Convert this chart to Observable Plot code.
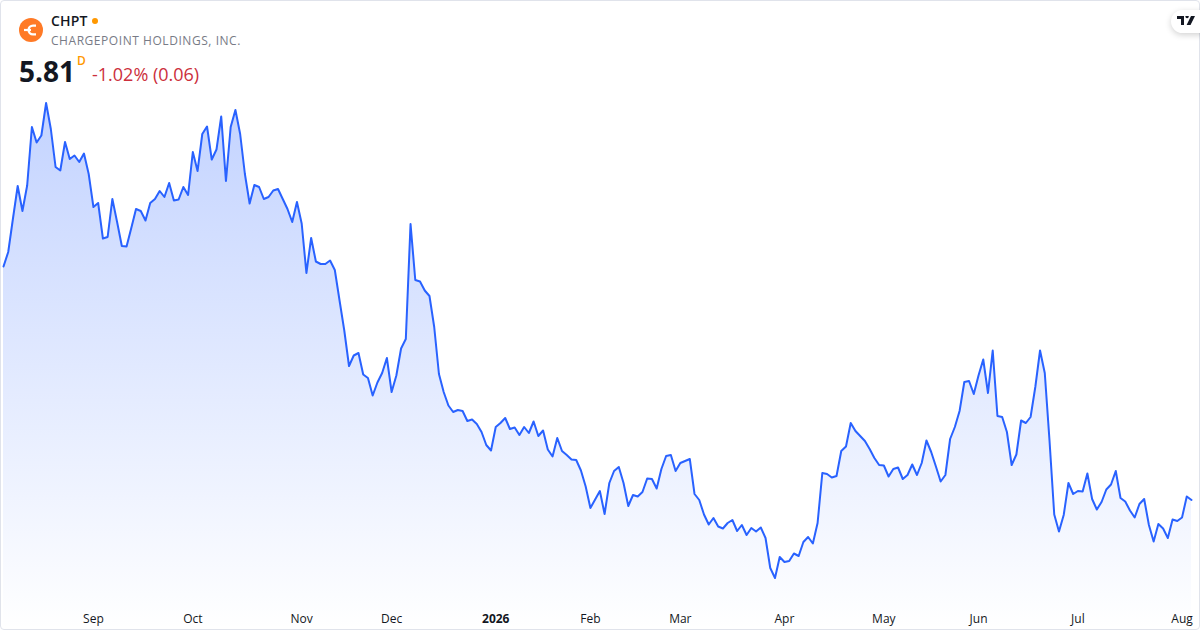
<!DOCTYPE html>
<html>
<head>
<meta charset="utf-8">
<script src="https://cdn.jsdelivr.net/npm/d3@7"></script>
<script src="https://cdn.jsdelivr.net/npm/@observablehq/plot@0.6"></script>
<style>
html,body{margin:0;padding:0;background:#fff;}
#card{position:relative;width:1200px;height:630px;overflow:hidden;font-family:"Open Sans",sans-serif;color:#131722;}
#frame{position:absolute;left:0;top:0;width:1198px;height:628px;border:1px solid #e0e3eb;border-radius:4px;pointer-events:none;}
#chart{position:absolute;left:0;top:0;}
#logo{position:absolute;left:19px;top:18px;width:24px;height:24px;}
#sym{position:absolute;left:51px;top:12px;font-size:14px;font-weight:600;line-height:18px;letter-spacing:.2px;}
#dot{position:absolute;left:92px;top:18px;width:6px;height:6px;border-radius:50%;background:#ff9800;}
#name{position:absolute;left:51px;top:32px;font-size:12px;line-height:18px;color:#787b86;letter-spacing:.55px;}
#price{position:absolute;left:19px;top:53px;font-size:28px;font-weight:700;line-height:36px;}
#res{position:absolute;left:77px;top:54px;font-size:12px;font-weight:600;line-height:14px;color:#ff9800;}
#chg{position:absolute;left:92px;top:62px;font-size:18px;line-height:25px;color:#cc2f3c;}
#tv{position:absolute;left:1171px;top:10px;width:40px;height:23px;border-radius:12px;background:#fff;box-shadow:0 2px 6px rgba(0,0,0,.18);}
#tv svg{position:absolute;left:6px;top:5px;}
</style>
</head>
<body>
<div id="card">
  <div id="chart"></div>
  <div id="frame"></div>
  <svg id="logo" viewBox="0 0 24 24"><circle cx="12" cy="12" r="12" fill="#ff7a26"/><path d="M17 7.6h-3a4.4 4.4 0 0 0 0 8.8h3" fill="none" stroke="#fff" stroke-width="2.4"/><path d="M5 12h7" stroke="#fff" stroke-width="2.2"/></svg>
  <div id="sym">CHPT</div><div id="dot"></div>
  <div id="name">CHARGEPOINT HOLDINGS, INC.</div>
  <div id="price">5.81</div><div id="res">D</div>
  <div id="chg">-1.02% (0.06)</div>
  <div id="tv"><svg width="18" height="12" viewBox="0 0 18 12"><path d="M0 1h7v9H4V4H0z M8.5 1h3.2a1.7 1.7 0 1 1-3.2 0z M14 1h4l-4.5 9H9.6z" fill="#131722"/></svg></div>
</div>
<script>
const closes = [
10.48,10.77,11.44,12.09,11.59,12.10,13.27,12.96,13.10,13.75,13.23,12.47,12.40,12.97,12.63,12.70,12.57,12.74,12.33,11.67,
11.75,11.04,11.07,11.83,11.37,10.89,10.88,11.25,11.63,11.59,11.40,11.75,11.83,11.99,11.87,12.15,11.80,11.82,12.07,11.91,
12.77,12.39,13.13,13.28,12.62,12.82,13.48,12.19,13.27,13.61,13.13,12.33,11.74,12.11,12.07,11.83,11.87,12.00,12.03,11.83,
11.63,11.37,11.77,11.34,10.35,11.05,10.58,10.53,10.53,10.60,10.41,9.80,9.20,8.49,8.70,8.75,8.32,8.25,7.90,8.16,
8.35,8.65,7.97,8.30,8.84,9.03,11.33,10.21,10.18,10.00,9.89,9.27,8.33,7.97,7.70,7.57,7.61,7.59,7.39,7.42,
7.33,7.17,6.91,6.80,7.27,7.35,7.45,7.23,7.26,7.11,7.27,7.15,7.38,7.09,7.20,6.82,6.68,7.05,6.79,6.71,
6.62,6.61,6.40,6.08,5.65,5.82,5.99,5.53,6.15,6.39,6.47,6.15,5.69,5.91,5.88,5.97,6.24,6.23,6.04,6.43,
6.69,6.71,6.39,6.55,6.59,6.63,5.93,5.81,5.52,5.32,5.45,5.28,5.24,5.35,5.41,5.19,5.31,5.11,5.25,5.18,
5.26,5.05,4.45,4.25,4.67,4.57,4.59,4.74,4.69,4.97,5.07,4.94,5.35,6.35,6.33,6.26,6.29,6.79,6.88,7.35,
7.19,7.09,6.99,6.83,6.65,6.51,6.50,6.28,6.43,6.46,6.23,6.31,6.52,6.31,6.55,7.00,6.77,6.48,6.18,6.31,
7.03,7.27,7.59,8.17,8.19,7.93,8.30,8.62,7.95,8.80,7.49,7.47,7.17,6.51,6.72,7.40,7.35,7.47,8.07,8.80,
8.35,7.00,5.52,5.18,5.51,6.15,5.93,5.99,5.98,6.34,5.83,5.62,5.77,6.02,6.12,6.39,5.85,5.78,5.60,5.46,
5.73,5.83,5.31,4.98,5.33,5.24,5.05,5.42,5.39,5.46,5.88,5.81
];
const sessions = closes.map((_, i) => i);
const monthSessions = [19, 40, 63, 82, 124, 143, 165, 186, 206, 227, 249];
const monthLabels = ["Sep","Oct","Nov","Dec","Feb","Mar","Apr","May","Jun","Jul","Aug"];
const yearSessions = [104];
const yearLabels = ["2026"];

const rows = sessions.map(i => ({session: i, close: closes[i]}));
const labelFor = (ticks, labels) => t => labels[ticks.indexOf(t)];
const gradient = () => {
  const ns = "http://www.w3.org/2000/svg";
  const defs = document.createElementNS(ns, "defs");
  defs.innerHTML = '<linearGradient id="fade" x1="0" y1="0" x2="0" y2="1">' +
    '<stop offset="0" stop-color="#2962ff" stop-opacity="0.28"/>' +
    '<stop offset="1" stop-color="#2962ff" stop-opacity="0"/></linearGradient>';
  return defs;
};
const axisStyle = {anchor: "bottom", tickSize: 0, tickPadding: 0, label: null, fontSize: 12, fill: "#131722"};
const plot = Plot.plot({
  width: 1200, height: 630,
  marginTop: 0, marginRight: 0, marginBottom: 0, marginLeft: 0,
  style: {fontFamily: "'Open Sans',sans-serif", fontSize: "12px", background: "transparent"},
  x: {type: "linear", domain: [0, 251], range: [3, 1191]},
  y: {type: "linear", domain: [3.2, 15.8], range: [630, 0], axis: null},
  marks: [
    gradient,
    Plot.areaY(rows, {x: "session", y1: 3.2, y2: "close", fill: "url(#fade)"}),
    Plot.lineY(rows, {x: "session", y: "close", stroke: "#2962ff", strokeWidth: 2, strokeLinejoin: "round"}),
    Plot.axisX({...axisStyle, ticks: monthSessions, tickFormat: labelFor(monthSessions, monthLabels), dy: -16}),
    Plot.axisX({...axisStyle, ticks: yearSessions, tickFormat: labelFor(yearSessions, yearLabels), dy: -16, fontWeight: 700})
  ]
});
document.getElementById("chart").appendChild(plot);
</script>
</body>
</html>
